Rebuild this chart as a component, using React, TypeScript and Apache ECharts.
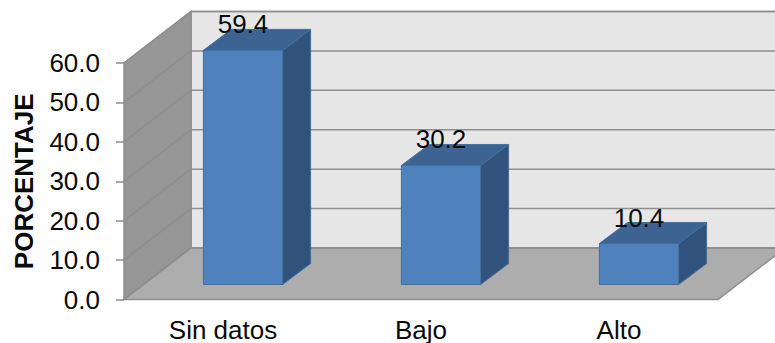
import React, { useEffect, useRef } from "react";
import * as echarts from "echarts";

const categories = ["Sin datos", "Bajo", "Alto"];
const values = [59.4, 30.2, 10.4];
const yTicks = [0, 10, 20, 30, 40, 50, 60];

const FONT = '"Liberation Sans", Arial, sans-serif';
const TEXT_SIZE = 26;
const TEXT_COLOR = "#0a0a0a";
const LINE_COLOR = "#8e8e8e";

// Oblique projection used for the pseudo-3D chart box and the bars.
const BOX_DEPTH_X = 67;
const BOX_DEPTH_Y = -51.5;
const BAR_OFFSET_X = 20;
const BAR_OFFSET_Y = -15;
const BAR_DEPTH_X = 28;
const BAR_DEPTH_Y = -21;
const BAR_WIDTH_RATIO = 0.4;

const polygon = (points: number[][], fill: string, stroke: string, lineWidth = 1) => ({
  type: "polygon",
  shape: { points },
  style: { fill, stroke, lineWidth },
});

// Back wall, side wall and floor of the box.
const renderBox = (params: any) => {
  const { x, y, width, height } = params.coordSys;
  const bottom = y + height;
  const dx = BOX_DEPTH_X;
  const dy = BOX_DEPTH_Y;
  return {
    type: "group",
    silent: true,
    children: [
      polygon(
        [[x + dx, y + dy], [x + width + dx, y + dy], [x + width + dx, bottom + dy], [x + dx, bottom + dy]],
        "#e6e6e6",
        LINE_COLOR,
        1.5
      ),
      polygon([[x, y], [x + dx, y + dy], [x + dx, bottom + dy], [x, bottom]], "#969696", LINE_COLOR, 1.5),
      polygon(
        [[x, bottom], [x + width, bottom], [x + width + dx, bottom + dy], [x + dx, bottom + dy]],
        "#adadad",
        LINE_COLOR,
        1.5
      ),
    ],
  };
};

// One gridline per tick, running along the side wall and across the back wall.
const renderGridLine = (params: any, api: any) => {
  const { x, width } = params.coordSys;
  const py = api.coord([0, api.value(1)])[1];
  return {
    type: "polyline",
    silent: true,
    shape: {
      points: [
        [x, py],
        [x + BOX_DEPTH_X, py + BOX_DEPTH_Y],
        [x + width + BOX_DEPTH_X, py + BOX_DEPTH_Y],
      ],
    },
    style: { fill: "none", stroke: LINE_COLOR, lineWidth: 1.5 },
  };
};

const renderBar = (params: any, api: any) => {
  const value = api.value(1);
  const band = api.size([1, 0])[0];
  const w = band * BAR_WIDTH_RATIO;
  const center = api.coord([api.value(0), 0]);
  const top = api.coord([api.value(0), value]);
  const left = center[0] - w / 2 + BAR_OFFSET_X;
  const right = left + w;
  const yBase = center[1] + BAR_OFFSET_Y;
  const yTop = top[1] + BAR_OFFSET_Y;
  const dx = BAR_DEPTH_X;
  const dy = BAR_DEPTH_Y;
  const edge = "#40709f";
  return {
    type: "group",
    children: [
      polygon([[right, yBase], [right + dx, yBase + dy], [right + dx, yTop + dy], [right, yTop]], "#31527a", edge),
      polygon([[left, yTop], [right, yTop], [right + dx, yTop + dy], [left + dx, yTop + dy]], "#3c6391", edge),
      polygon([[left, yBase], [right, yBase], [right, yTop], [left, yTop]], "#4f81bd", edge),
      {
        type: "text",
        x: left + w / 2,
        y: yTop - 26,
        style: {
          text: value.toFixed(1),
          fontFamily: FONT,
          fontSize: TEXT_SIZE,
          fill: TEXT_COLOR,
          align: "center",
          verticalAlign: "middle",
        },
      },
    ],
  };
};

export default function App() {
  const ref = useRef<HTMLDivElement>(null);

  useEffect(() => {
    const chart = echarts.init(ref.current!, undefined, { renderer: "svg" });
    chart.setOption({
      animation: false,
      backgroundColor: "#ffffff",
      grid: { left: 124, right: 57, top: 63, bottom: 43.5, containLabel: false, outerBoundsMode: "none" },
      xAxis: {
        type: "category",
        data: categories,
        axisLine: { show: false },
        axisTick: { show: false },
        axisLabel: { fontFamily: FONT, fontSize: TEXT_SIZE, color: TEXT_COLOR, margin: 17 },
      },
      yAxis: {
        type: "value",
        min: 0,
        max: 60,
        interval: 10,
        name: "PORCENTAJE",
        nameLocation: "middle",
        nameGap: 87,
        nameTextStyle: { fontFamily: FONT, fontSize: TEXT_SIZE, fontWeight: "bold", color: TEXT_COLOR },
        axisLine: { show: false },
        axisTick: { show: true, length: 8, lineStyle: { color: LINE_COLOR, width: 1.5 } },
        splitLine: { show: false },
        axisLabel: {
          fontFamily: FONT,
          fontSize: TEXT_SIZE,
          color: TEXT_COLOR,
          margin: 24,
          formatter: (v: number) => v.toFixed(1),
        },
      },
      series: [
        { type: "custom", z: 1, renderItem: renderBox, data: [[0, 0]], clip: false, silent: true },
        {
          type: "custom",
          z: 2,
          renderItem: renderGridLine,
          data: yTicks.map((t) => [0, t]),
          clip: false,
          silent: true,
        },
        {
          type: "custom",
          z: 3,
          renderItem: renderBar,
          data: values.map((v, i) => [i, v]),
          encode: { x: 0, y: 1 },
          clip: false,
        },
      ],
    });
    return () => chart.dispose();
  }, []);

  return <div ref={ref} style={{ position: "absolute", left: 0, top: 0, width: 775, height: 343 }} />;
}
